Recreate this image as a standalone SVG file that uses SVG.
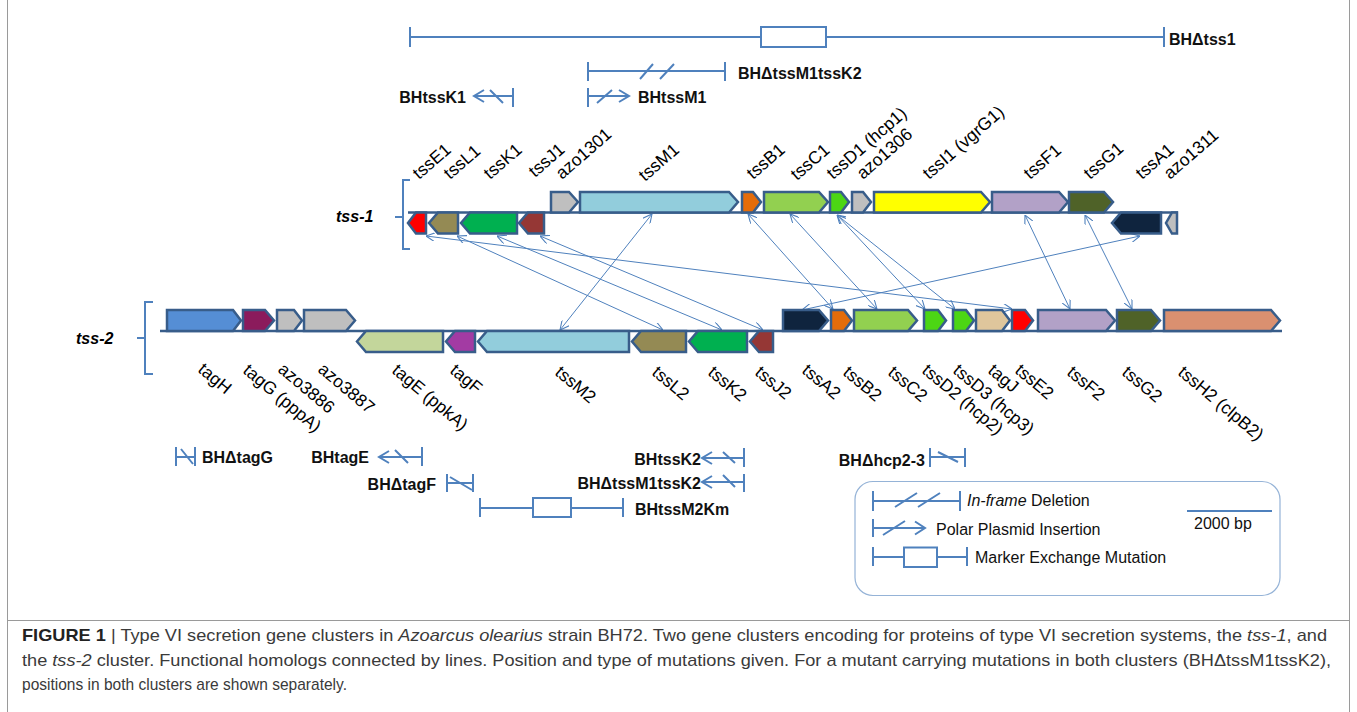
<svg xmlns="http://www.w3.org/2000/svg" width="1357" height="712" viewBox="0 0 1357 712">
<defs>
<style>
.g{stroke:#385D8A;stroke-width:2.5;stroke-linejoin:miter}
.base{stroke:#385D8A;stroke-width:2.5;fill:none}
.br{stroke:#4F81BD;stroke-width:2;fill:none}
.lab{font-family:"Liberation Sans",Arial,sans-serif;font-size:17.5px;fill:#000}
.mut{stroke:#4F81BD;stroke-width:2;fill:none}
.mlab{font-family:"Liberation Sans",Arial,sans-serif;font-size:16px;font-weight:bold;fill:#111}
.leg{font-family:"Liberation Sans",Arial,sans-serif;font-size:16px;fill:#111}
.conn{stroke:#4F81BD;stroke-width:1;fill:none;marker-start:url(#ah);marker-end:url(#ah)}
.cl{font-family:"Liberation Sans Narrow","Liberation Sans",Arial,sans-serif;font-size:17px;fill:#3a3a3a}
.clab{font-family:"Liberation Sans",Arial,sans-serif;font-size:16px;font-weight:bold;font-style:italic;fill:#000}
</style>
<marker id="ah" viewBox="0 0 10 10" refX="10" refY="5" markerWidth="9" markerHeight="9" markerUnits="userSpaceOnUse" orient="auto-start-reverse">
<path d="M0,0 L10,5 L0,10" fill="none" stroke="#4F81BD" stroke-width="1.2"/>
</marker>
</defs>
<rect width="1357" height="712" fill="#fff"/>
<g id="frame" stroke="#9a9a9a" stroke-width="1" fill="none">
<line x1="7.5" y1="0" x2="7.5" y2="712"/>
<line x1="1349.5" y1="0" x2="1349.5" y2="712"/>
<line x1="7.5" y1="620.5" x2="1349.5" y2="620.5"/>
</g>

<!-- connectors -->
<g id="connectors">
<line class="conn" x1="426" y1="236" x2="1012" y2="309"/>
<line class="conn" x1="457" y1="236" x2="663" y2="330"/>
<line class="conn" x1="497" y1="236" x2="722" y2="330"/>
<line class="conn" x1="540" y1="236" x2="763" y2="330"/>
<line class="conn" x1="652" y1="214" x2="560" y2="330"/>
<line class="conn" x1="748" y1="214" x2="833" y2="309"/>
<line class="conn" x1="790" y1="214" x2="877" y2="309"/>
<line class="conn" x1="837" y1="215" x2="925" y2="309"/>
<line class="conn" x1="837" y1="215" x2="955" y2="309"/>
<line class="conn" x1="1025" y1="215" x2="1070" y2="309"/>
<line class="conn" x1="1085" y1="215" x2="1132" y2="309"/>
<line class="conn" x1="1140" y1="236" x2="802" y2="310"/>
</g>

<!-- tss-1 cluster -->
<g id="tss1-cluster">
<path class="br" d="M410,180 H403 V249 H410 M403,217 H395"/>
<text class="clab" x="336" y="222">tss-1</text>
<line class="base" x1="408" y1="212.5" x2="1178" y2="212.5"/>
</g>
<g id="azo1301"><path class="g" fill="#BFBFBF" d="M551,192 H569 L578,202 L569,212.5 H551 Z"/></g>
<g id="tssM1"><path class="g" fill="#92CDDC" d="M580,192 H729 L738,202 L729,212.5 H580 Z"/></g>
<g id="tssB1"><path class="g" fill="#E46C0A" d="M742,192 H753 L761,202 L753,212.5 H742 Z"/></g>
<g id="tssC1"><path class="g" fill="#92D050" d="M764,192 H819 L828,202 L819,212.5 H764 Z"/></g>
<g id="tssD1"><path class="g" fill="#4CD614" d="M830,192 H841 L849,202 L841,212.5 H830 Z"/></g>
<g id="azo1306"><path class="g" fill="#BFBFBF" d="M852,192 H863 L871,202 L863,212.5 H852 Z"/></g>
<g id="tssI1"><path class="g" fill="#FFFF00" d="M874,192 H981 L990,202 L981,212.5 H874 Z"/></g>
<g id="tssF1"><path class="g" fill="#B2A1C7" d="M992,192 H1059 L1068,202 L1059,212.5 H992 Z"/></g>
<g id="tssG1"><path class="g" fill="#4F6228" d="M1069,192 H1104 L1113,202 L1104,212.5 H1069 Z"/></g>
<g id="tssE1"><path class="g" fill="#FF0000" d="M426,212.5 H416 L408,223 L416,233.5 H426 Z"/></g>
<g id="tssL1"><path class="g" fill="#948A54" d="M458,212.5 H438 L429,223 L438,233.5 H458 Z"/></g>
<g id="tssK1"><path class="g" fill="#00B050" d="M517,212.5 H470 L461,223 L470,233.5 H517 Z"/></g>
<g id="tssJ1"><path class="g" fill="#953735" d="M544,212.5 H528 L519,223 L528,233.5 H544 Z"/></g>
<g id="tssA1"><path class="g" fill="#0F243E" d="M1161,212.5 H1121 L1112,223 L1121,233.5 H1161 Z"/></g>
<g id="azo1311"><path class="g" fill="#BFBFBF" d="M1177,212.5 H1172 L1166,223 L1172,233.5 H1177 Z"/></g>

<g id="tss1-labels">
<text class="lab" transform="translate(419,180) rotate(-41)">tssE1</text>
<text class="lab" transform="translate(450,180) rotate(-41)">tssL1</text>
<text class="lab" transform="translate(490,180) rotate(-41)">tssK1</text>
<text class="lab" transform="translate(535,178) rotate(-41)">tssJ1</text>
<text class="lab" transform="translate(562,180) rotate(-41)">azo1301</text>
<text class="lab" transform="translate(645,182) rotate(-41)">tssM1</text>
<text class="lab" transform="translate(753,180) rotate(-41)">tssB1</text>
<text class="lab" transform="translate(797,181) rotate(-41)">tssC1</text>
<text class="lab" transform="translate(833,180) rotate(-41)">tssD1 (hcp1)</text>
<text class="lab" transform="translate(863,180) rotate(-41)">azo1306</text>
<text class="lab" transform="translate(929,180) rotate(-41)">tssI1 (vgrG1)</text>
<text class="lab" transform="translate(1030,180) rotate(-41)">tssF1</text>
<text class="lab" transform="translate(1090,180) rotate(-41)">tssG1</text>
<text class="lab" transform="translate(1142,180) rotate(-41)">tssA1</text>
<text class="lab" transform="translate(1170,180) rotate(-41)">azo1311</text>
</g>

<!-- tss-2 cluster -->
<g id="tss2-cluster">
<path class="br" d="M153,302 H145 V374 H153 M145,338 H137"/>
<text class="clab" x="76" y="344">tss-2</text>
<line class="base" x1="160" y1="331" x2="1282" y2="331"/>
</g>
<g id="tagH"><path class="g" fill="#558ED5" d="M167,310 H233 L241,320.5 L233,331 H167 Z"/></g>
<g id="tagG"><path class="g" fill="#8B1B5C" d="M243,310 H265 L274,320.5 L265,331 H243 Z"/></g>
<g id="azo3886"><path class="g" fill="#BFBFBF" d="M277,310 H294 L302,320.5 L294,331 H277 Z"/></g>
<g id="azo3887"><path class="g" fill="#BFBFBF" d="M304,310 H346 L355,320.5 L346,331 H304 Z"/></g>
<g id="tssA2"><path class="g" fill="#0F243E" d="M783,310 H819 L828,320.5 L819,331 H783 Z"/></g>
<g id="tssB2"><path class="g" fill="#E46C0A" d="M831,310 H844 L852,320.5 L844,331 H831 Z"/></g>
<g id="tssC2"><path class="g" fill="#92D050" d="M854,310 H908 L917,320.5 L908,331 H854 Z"/></g>
<g id="tssD2"><path class="g" fill="#4CD614" d="M924,310 H938 L946,320.5 L938,331 H924 Z"/></g>
<g id="tssD3"><path class="g" fill="#4CD614" d="M953,310 H966 L974,320.5 L966,331 H953 Z"/></g>
<g id="tagJ"><path class="g" fill="#DFC69C" d="M976,310 H1002 L1010,320.5 L1002,331 H976 Z"/></g>
<g id="tssE2"><path class="g" fill="#FF0000" d="M1012,310 H1025 L1033,320.5 L1025,331 H1012 Z"/></g>
<g id="tssF2"><path class="g" fill="#B2A1C7" d="M1038,310 H1106 L1115,320.5 L1106,331 H1038 Z"/></g>
<g id="tssG2"><path class="g" fill="#4F6228" d="M1117,310 H1151 L1160,320.5 L1151,331 H1117 Z"/></g>
<g id="tssH2"><path class="g" fill="#DA9070" d="M1164,310 H1271 L1280,320.5 L1271,331 H1164 Z"/></g>
<g id="tagE"><path class="g" fill="#C3D69B" d="M443,331 H366 L357,341.5 L366,352 H443 Z"/></g>
<g id="tagF"><path class="g" fill="#A33BA3" d="M475,331 H455 L446,341.5 L455,352 H475 Z"/></g>
<g id="tssM2"><path class="g" fill="#92CDDC" d="M629,331 H487 L478,341.5 L487,352 H629 Z"/></g>
<g id="tssL2"><path class="g" fill="#948A54" d="M686,331 H641 L632,341.5 L641,352 H686 Z"/></g>
<g id="tssK2"><path class="g" fill="#00B050" d="M747,331 H698 L689,341.5 L698,352 H747 Z"/></g>
<g id="tssJ2"><path class="g" fill="#953735" d="M773,331 H759 L750,341.5 L759,352 H773 Z"/></g>

<g id="tss2-labels">
<text class="lab" transform="translate(197,371) rotate(40)">tagH</text>
<text class="lab" transform="translate(242,372) rotate(40)">tagG (pppA)</text>
<text class="lab" transform="translate(277,371) rotate(40)">azo3886</text>
<text class="lab" transform="translate(317,371) rotate(40)">azo3887</text>
<text class="lab" transform="translate(391,372) rotate(40)">tagE (ppkA)</text>
<text class="lab" transform="translate(449,372) rotate(40)">tagF</text>
<text class="lab" transform="translate(554,374) rotate(40)">tssM2</text>
<text class="lab" transform="translate(651,374) rotate(40)">tssL2</text>
<text class="lab" transform="translate(707,374) rotate(40)">tssK2</text>
<text class="lab" transform="translate(754,374) rotate(40)">tssJ2</text>
<text class="lab" transform="translate(801,372) rotate(40)">tssA2</text>
<text class="lab" transform="translate(842,374) rotate(40)">tssB2</text>
<text class="lab" transform="translate(887,374) rotate(40)">tssC2</text>
<text class="lab" transform="translate(921,372) rotate(40)">tssD2 (hcp2)</text>
<text class="lab" transform="translate(952,372) rotate(40)">tssD3 (hcp3)</text>
<text class="lab" transform="translate(987,372) rotate(40)">tagJ</text>
<text class="lab" transform="translate(1014,372) rotate(40)">tssE2</text>
<text class="lab" transform="translate(1066,374) rotate(40)">tssF2</text>
<text class="lab" transform="translate(1121,374) rotate(40)">tssG2</text>
<text class="lab" transform="translate(1177,374) rotate(40)">tssH2 (clpB2)</text>
</g>

<!-- mutations -->
<g id="m-BHdtss1">
<path class="mut" d="M410,37 H761 M826,37 H1164 M410,27 V47 M1164,27 V47"/>
<rect class="mut" x="761" y="27" width="65" height="20" fill="#fff"/>
<text class="mlab" x="1169" y="45">BHΔtss1</text>
</g>
<g id="m-BHdtssM1tssK2-top">
<path class="mut" d="M588,71 H725 M588,62 V81 M725,62 V81 M640,79 L653,64 M660,79 L674,64"/>
<text class="mlab" x="738" y="79">BHΔtssM1tssK2</text>
</g>
<g id="m-BHtssK1">
<path class="mut" d="M474,96 H513 M513,88 V107 M484,90 L474,96 L484,102 M490,90 L503,103"/>
<text class="mlab" x="466" y="103" text-anchor="end">BHtssK1</text>
</g>
<g id="m-BHtssM1">
<path class="mut" d="M588,96 H629 M588,88 V107 M619,90 L629,96 L619,102 M597,103 L612,90"/>
<text class="mlab" x="638" y="103">BHtssM1</text>
</g>
<g id="m-BHdtagG">
<path class="mut" d="M176,447 V466 M195,447 V466 M176,457 H195 M181,449 L193,464"/>
<text class="mlab" x="202" y="463">BHΔtagG</text>
</g>
<g id="m-BHtagE">
<path class="mut" d="M379,457 H422 M422,447 V466 M389,451 L379,457 L389,463 M395,450 L408,463"/>
<text class="mlab" x="369" y="463" text-anchor="end">BHtagE</text>
</g>
<g id="m-BHdtagF">
<path class="mut" d="M447,474 V492 M473,474 V492 M447,483 H473 M450,477 L472,490"/>
<text class="mlab" x="436" y="490" text-anchor="end">BHΔtagF</text>
</g>
<g id="m-BHtssM2Km">
<path class="mut" d="M480,498 V517 M480,508 H533 M571,508 H623 M623,498 V517"/>
<rect class="mut" x="533" y="498" width="38" height="19"/>
<text class="mlab" x="635" y="515">BHtssM2Km</text>
</g>
<g id="m-BHtssK2">
<path class="mut" d="M702,458 H744 M744,448 V467 M712,452 L702,458 L712,464 M723,452 L735,463"/>
<text class="mlab" x="701" y="465" text-anchor="end">BHtssK2</text>
</g>
<g id="m-BHdtssM1tssK2-bottom">
<path class="mut" d="M702,482 H744 M744,474 V492 M712,476 L702,482 L712,488 M723,475 L735,487"/>
<text class="mlab" x="701" y="489" text-anchor="end">BHΔtssM1tssK2</text>
</g>
<g id="m-BHdhcp2-3">
<path class="mut" d="M930,448 V467 M965,448 V467 M930,457 H965 M938,452 L958,462"/>
<text class="mlab" x="925" y="466" text-anchor="end">BHΔhcp2-3</text>
</g>

<!-- legend -->
<g id="legend">
<rect x="855" y="481.5" width="425" height="114" rx="18" fill="none" stroke="#95B3D7" stroke-width="1.2"/>
<path class="mut" d="M873,491 V511 M873,501 H960 M960,491 V511 M895,507 L917,493 M918,507 L940,493"/>
<text class="leg" x="967" y="506"><tspan font-style="italic">In-frame</tspan> Deletion</text>
<path class="mut" d="M873,519 V537 M873,528 H925 M915,521.5 L925,528 L915,534.5 M883,535 L905,521"/>
<text class="leg" x="936" y="535">Polar Plasmid Insertion</text>
<path class="mut" d="M873,547 V566 M873,557 H904 M937,557 H967 M967,547 V566"/>
<rect class="mut" x="904" y="547.5" width="33" height="19.5"/>
<text class="leg" x="975" y="563">Marker Exchange Mutation</text>
<line class="mut" x1="1187" y1="511" x2="1272" y2="511"/>
<text class="leg" x="1194" y="529">2000 bp</text>
</g>

<!-- caption -->
<g id="caption">
<text class="cl" x="22" y="641" textLength="1305" lengthAdjust="spacingAndGlyphs"><tspan font-weight="bold" fill="#222">FIGURE 1</tspan> | Type VI secretion gene clusters in <tspan font-style="italic">Azoarcus olearius</tspan> strain BH72. Two gene clusters encoding for proteins of type VI secretion systems, the <tspan font-style="italic">tss-1</tspan>, and</text>
<text class="cl" x="22" y="665.5" textLength="1309" lengthAdjust="spacingAndGlyphs">the <tspan font-style="italic">tss-2</tspan> cluster. Functional homologs connected by lines. Position and type of mutations given. For a mutant carrying mutations in both clusters (BHΔtssM1tssK2),</text>
<text class="cl" x="22" y="690" textLength="325" lengthAdjust="spacingAndGlyphs">positions in both clusters are shown separately.</text>
</g>
</svg>
